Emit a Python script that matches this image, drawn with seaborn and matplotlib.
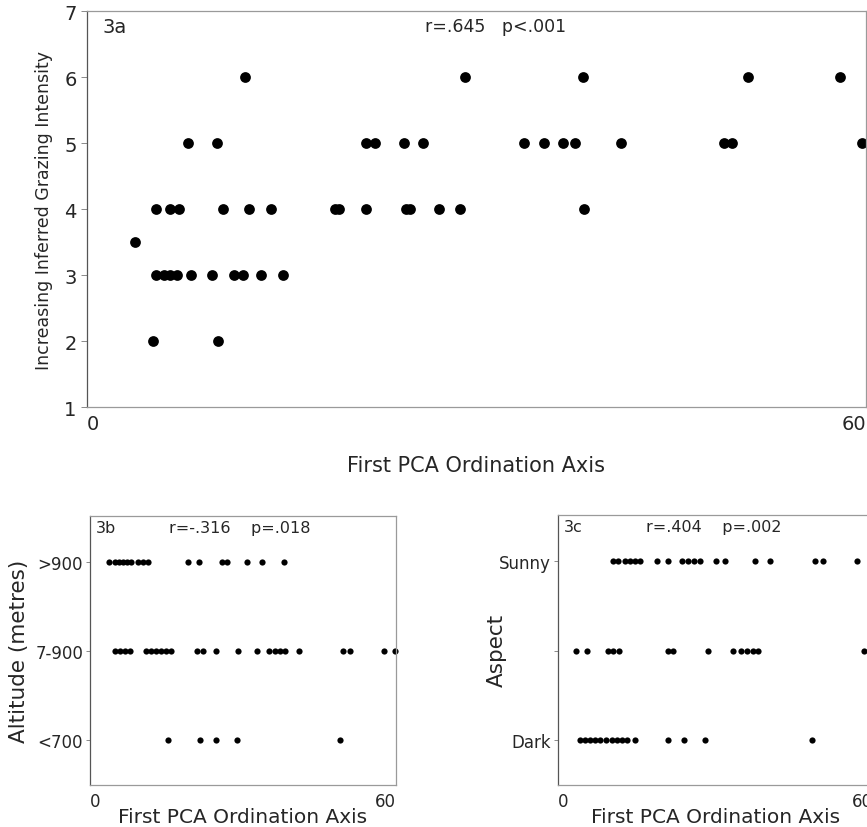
import numpy as np
import pandas as pd
import seaborn as sns
from matplotlib import pyplot as plt

# ---- data (x = first PCA ordination axis score) ----
# 3a: inferred grazing intensity
graze_6 = [12.2, 29.1, 38.2, 50.9, 58.0]
graze_5 = [7.8, 10.0, 21.5, 22.2, 24.4, 25.9, 33.7, 35.2, 36.7, 37.6, 41.1, 49.1, 49.7, 59.7]
graze_4 = [5.3, 6.4, 7.1, 10.5, 12.5, 14.2, 19.1, 19.4, 21.5, 24.6, 24.9, 27.1, 28.7, 38.3]
graze_35 = [3.7]
graze_3 = [5.3, 5.9, 6.4, 6.9, 8.0, 9.6, 11.3, 12.0, 13.4, 15.1]
graze_2 = [5.1, 10.1]

# 3b: altitude class
alt_high = [3.7, 4.9, 5.7, 6.5, 7.3, 8.0, 9.4, 10.4, 11.4, 19.2, 21.4, 25.9, 26.9, 30.8, 33.8, 38.1]
alt_mid = [4.9, 5.9, 6.9, 7.9, 11.0, 12.0, 13.0, 13.9, 14.9, 15.9, 21.0, 22.2, 24.7, 29.0,
           32.8, 35.1, 36.3, 37.3, 38.3, 41.0, 49.7, 51.0, 57.7, 59.9]
alt_low = [15.3, 21.6, 24.7, 28.8, 49.1]
alt_labels = ['<700', '7-900', '>900']

# 3c: aspect class
asp_sunny = [10.5, 11.5, 12.8, 13.8, 14.7, 15.7, 18.9, 21.0, 23.7, 24.8, 25.9, 27.0, 30.2,
             31.9, 37.5, 40.4, 49.0, 50.5, 57.0]
asp_mid = [3.5, 5.6, 9.6, 10.5, 11.7, 21.0, 21.9, 28.5, 33.3, 34.8, 36.1, 37.1, 38.1, 58.3]
asp_dark = [4.2, 5.2, 6.1, 7.1, 8.0, 9.2, 10.3, 11.3, 12.2, 13.2, 14.7, 21.0, 24.1, 28.0, 48.4]
asp_labels = ['Dark', '', 'Sunny']


def rows(groups):
    xs, ys = [], []
    for level, vals in groups:
        xs += vals
        ys += [level] * len(vals)
    return pd.DataFrame({'pca': xs, 'level': ys})


df_a = rows([(6, graze_6), (5, graze_5), (4, graze_4), (3.5, graze_35), (3, graze_3), (2, graze_2)])
df_b = rows([(3, alt_high), (2, alt_mid), (1, alt_low)])
df_c = rows([(3, asp_sunny), (2, asp_mid), (1, asp_dark)])

sns.set_style('white')
plt.rcParams['font.family'] = ['DejaVu Sans']

fig = plt.figure(figsize=(8.67, 8.28), dpi=100)
ax_a = fig.add_axes([0.1003, 0.5072, 0.8985, 0.4783])
ax_b = fig.add_axes([0.1038, 0.0507, 0.3526, 0.3253])
ax_c = fig.add_axes([0.6433, 0.0511, 0.3637, 0.3257])


def frame(ax):
    for s in ax.spines.values():
        s.set_visible(True)
        s.set_color('#9a9a9a')
        s.set_linewidth(0.9)
    ax.spines['left'].set_color('#555555')


def end_ticks(ax):
    # "0" sits just right of the left edge, "60" just left of the right edge
    ax.set_xticks([0, 60])
    labs = ax.set_xticklabels(['0', '60'])
    labs[0].set_ha('left')
    labs[1].set_ha('right')


# ---- 3a ----
sns.scatterplot(data=df_a, x='pca', y='level', ax=ax_a, color='black', s=60,
                edgecolor='black', linewidth=0, clip_on=False)
ax_a.set_xlim(0, 60)
ax_a.set_ylim(1, 7)
ax_a.set_yticks(range(1, 8))
end_ticks(ax_a)
ax_a.tick_params(axis='both', labelsize=14, length=4, width=0.6, color='#777777',
                 direction='out', left=True, bottom=False)
ax_a.tick_params(axis='x', pad=1)
ax_a.set_xlabel('First PCA Ordination Axis', fontsize=15, labelpad=16)
ax_a.set_ylabel('Increasing Inferred Grazing Intensity', fontsize=12.5)
ax_a.yaxis.set_label_coords(-0.044, 0.5)
frame(ax_a)
ax_a.text(0.02, 0.985, '3a', transform=ax_a.transAxes, fontsize=14, va='top')
ax_a.text(0.434, 0.985, 'r=.645   p<.001', transform=ax_a.transAxes, fontsize=12.5, va='top')

# ---- 3b ----
sns.scatterplot(data=df_b, x='pca', y='level', ax=ax_b, color='black', s=20,
                edgecolor='black', linewidth=0, clip_on=False)
ax_b.set_xlim(0, 60)
ax_b.set_ylim(0.5, 3.52)
ax_b.set_yticks([1, 2, 3])
ax_b.set_yticklabels(alt_labels)
end_ticks(ax_b)
ax_b.tick_params(axis='both', labelsize=12, length=3, width=0.6, color='#777777',
                 direction='out', left=True, bottom=False, pad=2)
ax_b.set_xlabel('First PCA Ordination Axis', fontsize=14.5, labelpad=-2)
ax_b.set_ylabel('Altitude (metres)', fontsize=15.5)
ax_b.yaxis.set_label_coords(-0.2, 0.5)
frame(ax_b)
ax_b.text(0.02, 0.985, '3b', transform=ax_b.transAxes, fontsize=11.5, va='top')
ax_b.text(0.26, 0.985, 'r=-.316    p=.018', transform=ax_b.transAxes, fontsize=11.5, va='top')

# ---- 3c ----
sns.scatterplot(data=df_c, x='pca', y='level', ax=ax_c, color='black', s=20,
                edgecolor='black', linewidth=0, clip_on=False)
ax_c.set_xlim(0, 60)
ax_c.set_ylim(0.5, 3.52)
ax_c.set_yticks([1, 2, 3])
ax_c.set_yticklabels(asp_labels)
end_ticks(ax_c)
ax_c.tick_params(axis='both', labelsize=12, length=3, width=0.6, color='#777777',
                 direction='out', left=True, bottom=False, pad=2)
ax_c.set_xlabel('First PCA Ordination Axis', fontsize=14.5, labelpad=-2)
ax_c.set_ylabel('Aspect', fontsize=15.5)
ax_c.yaxis.set_label_coords(-0.16, 0.5)
frame(ax_c)
ax_c.text(0.02, 0.985, '3c', transform=ax_c.transAxes, fontsize=11.5, va='top')
ax_c.text(0.28, 0.985, 'r=.404    p=.002', transform=ax_c.transAxes, fontsize=11.5, va='top')

fig.savefig('out.png', dpi=100)
